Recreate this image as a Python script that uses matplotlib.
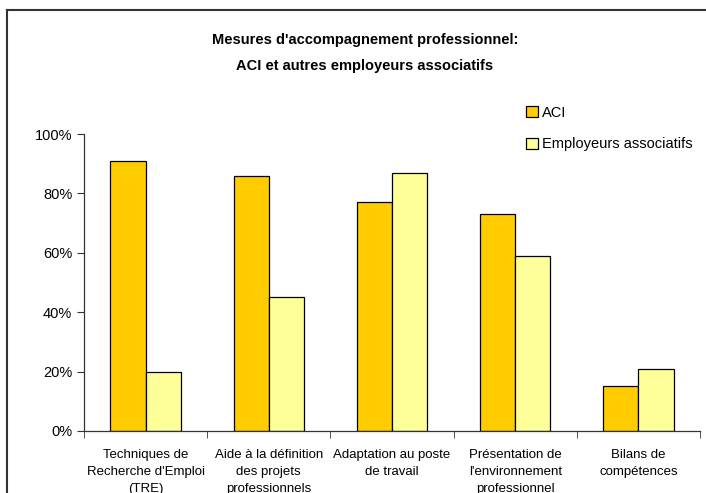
import matplotlib.pyplot as plt
from matplotlib.ticker import FixedLocator, PercentFormatter
from matplotlib import font_manager
from matplotlib.lines import Line2D
import numpy as np

categories = [
    "Techniques de\nRecherche d'Emploi\n(TRE)",
    "Aide à la définition\ndes projets\nprofessionnels",
    "Adaptation au poste\nde travail",
    "Présentation de\nl'environnement\nprofessionnel",
    "Bilans de\ncompétences",
]
aci = [91, 86, 77, 73, 15]
employeurs = [20, 45, 87, 59, 21]
series_names = ["ACI", "Employeurs associatifs"]

names = {f.name for f in font_manager.fontManager.ttflist}
narrow = "Liberation Sans Narrow" if "Liberation Sans Narrow" in names else "Liberation Sans"

fig = plt.figure(figsize=(7.06, 4.93), dpi=100)
ax = fig.add_axes([84 / 706, 1 - 431 / 493, 616 / 706, 297 / 493])

x = np.arange(len(categories))
w = 1 / 3.5
ax.bar(x - w / 2, aci, w, color="#FFCC00", edgecolor="black", linewidth=0.9, label=series_names[0])
ax.bar(x + w / 2, employeurs, w, color="#FFFF99", edgecolor="black", linewidth=0.9, label=series_names[1])

ax.set_xlim(-0.5, len(categories) - 0.5)
ax.set_ylim(0, 100)
ax.yaxis.set_major_locator(FixedLocator([0, 20, 40, 60, 80, 100]))
ax.yaxis.set_major_formatter(PercentFormatter(decimals=0))
ax.set_xticks(x)
ax.set_xticklabels(categories, fontsize=9.5, family=narrow, linespacing=1.55)
ax.tick_params(axis="x", which="major", length=0, pad=13)
ax.set_xticks(np.arange(len(categories) + 1) - 0.5, minor=True)
ax.tick_params(axis="x", which="minor", length=5, color="#333333")
ax.tick_params(axis="y", length=5, color="#333333", labelsize=10.5)
for lab in ax.get_yticklabels():
    lab.set_family("Liberation Sans")

for s in ["top", "right"]:
    ax.spines[s].set_visible(False)
for s in ["left", "bottom"]:
    ax.spines[s].set_color("#333333")
    ax.spines[s].set_linewidth(0.9)

fig.text(365 / 706, 1 - 40 / 493, "Mesures d'accompagnement professionnel:",
         ha="center", va="center", fontsize=10.5, fontweight="bold", family=narrow)
fig.text(365 / 706, 1 - 66 / 493, "ACI et autres employeurs associatifs",
         ha="center", va="center", fontsize=10.5, fontweight="bold", family=narrow)

leg = fig.legend(loc="upper left", bbox_to_anchor=(520 / 706, 1 - 100 / 493),
                 frameon=False, fontsize=10.5, handlelength=0.8, handleheight=0.8,
                 handletextpad=0.3, labelspacing=1.2, borderaxespad=0)
for t in leg.get_texts():
    t.set_family(narrow)

# cadre du graphique (coupé à droite et en bas)
fig.add_artist(Line2D([7 / 706, 1], [1 - 10 / 493, 1 - 10 / 493], color="#333333", lw=1.5,
                      transform=fig.transFigure))
fig.add_artist(Line2D([7 / 706, 7 / 706], [0, 1 - 10 / 493], color="#333333", lw=1.5,
                      transform=fig.transFigure))

fig.savefig("out.png", dpi=100)
